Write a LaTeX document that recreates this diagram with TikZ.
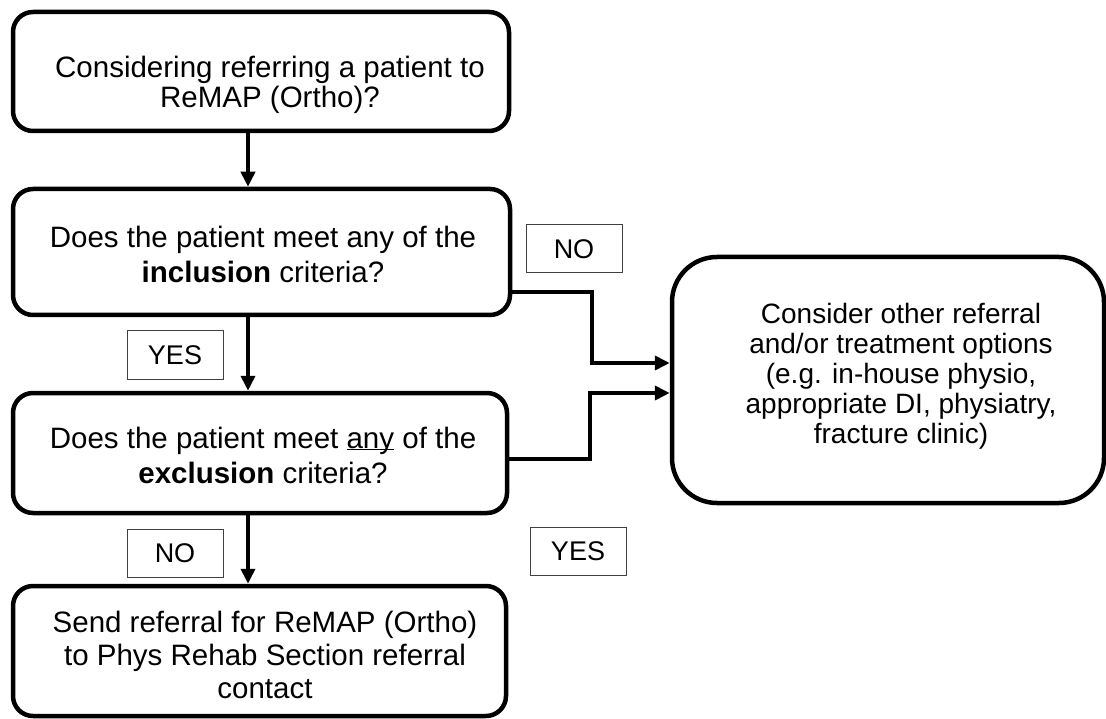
\documentclass[tikz,border=0pt]{standalone}
\usepackage{fontspec}
\setmainfont{Liberation Sans}
\usetikzlibrary{arrows.meta}
\begin{document}
\begin{tikzpicture}[x=1pt,y=-1pt,
 box/.style={draw,line width=4.5pt,rounded corners=20pt,inner sep=0pt},
 txt/.style={align=center,inner sep=0pt},
 lab/.style={draw=black!75,line width=1pt,font=\fontsize{27}{29}\selectfont,minimum width=96pt,minimum height=48pt,inner sep=0pt},
 arr/.style={line width=4pt,-{Triangle[length=15pt,width=14pt]}}]
\useasboundingbox (0,0) rectangle (1106,719);
\coordinate (xa) at (248,0);
\node[box,minimum width=496pt,minimum height=119pt] (b1) at (261,71.5) {};
\node[box,minimum width=497pt,minimum height=126pt] (b2) at (261.5,252) {};
\node[box,minimum width=494pt,minimum height=120pt] (b3) at (260,453) {};
\node[box,minimum width=493pt,minimum height=130pt] (b4) at (259.5,651) {};
\node[box,rounded corners=45pt,minimum width=432pt,minimum height=246pt] (rb) at (888,380) {};
\node[txt,font=\fontsize{29.5}{30}\selectfont] (t1) at (270,84.5) {Considering referring a patient to\\ReMAP (Ortho)?};
\node[txt,font=\fontsize{29.5}{35}\selectfont] (t2) at (263,254.5) {Does the patient meet any of the\\\textbf{inclusion} criteria?};
\node[txt,font=\fontsize{29.5}{35}\selectfont] (t3) at (263,455) {Does the patient meet \underline{\smash{any}} of the\\\textbf{exclusion} criteria?};
\node[txt,font=\fontsize{29.5}{33}\selectfont] (t4) at (265,655) {Send referral for ReMAP (Ortho)\\to Phys Rehab Section referral\\contact};
\node[txt,font=\fontsize{28}{30}\selectfont] (t5) at (901,376) {Consider other referral\\and/or treatment options\\(e.g. in-house physio,\\appropriate DI, physiatry,\\fracture clinic)};
\node[lab] (no1) at (574,249) {NO};
\node[lab] (yes1) at (175,355) {YES};
\node[lab] (no2) at (175,553) {NO};
\node[lab] (yes2) at (578,551) {YES};
\draw[arr] (b1.south -| xa) -- (b2.north -| xa);
\draw[arr] (b2.south -| xa) -- (b3.north -| xa);
\draw[arr] (b3.south -| xa) -- (b4.north -| xa);
\draw[arr] ([yshift=-40pt]b2.east) -- ++(80,0) |- ([yshift=17pt]rb.west);
\draw[arr] ([yshift=-6pt]b3.east) -- ++(81,0) |- ([yshift=-13pt]rb.west);
\end{tikzpicture}
\end{document}
